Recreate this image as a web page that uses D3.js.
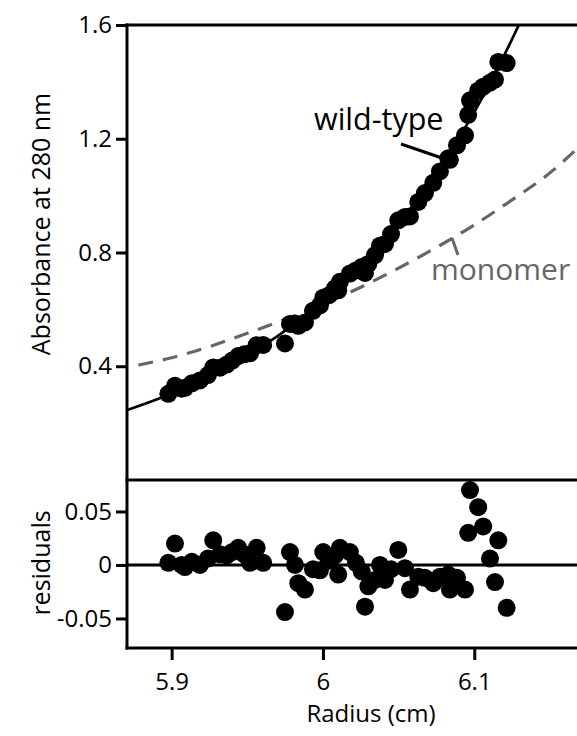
<!DOCTYPE html>
<html>
<head>
<meta charset="utf-8">
<script src="https://cdn.jsdelivr.net/npm/d3@7"></script>
<style>
  html, body { margin: 0; padding: 0; background: #fff; }
  svg { display: block; }
  text { font-family: "Open Sans", "Noto Sans", sans-serif; }
</style>
</head>
<body>
<svg id="chart" width="577" height="736"></svg>
<script>
// ---- data ----
const radius = [5.8978,5.9022,5.9066,5.9088,5.9134,5.9187,5.924,5.9275,5.932,5.9364,5.940,5.944,5.948,5.9518,5.9562,5.9605,5.9749,5.9782,5.9815,5.9837,5.9881,5.9934,5.998,6.0002,6.004,6.0079,6.0101,6.0112,6.0178,6.0218,6.0256,6.0278,6.030,6.0344,6.0377,6.041,6.045,6.0498,6.0542,6.0575,6.063,6.0674,6.0729,6.0773,6.0828,6.0839,6.0886,6.0939,6.096,6.0972,6.1026,6.1059,6.1104,6.1137,6.1159,6.1214];
const absorbance = [0.303,0.331,0.321,0.324,0.340,0.350,0.369,0.396,0.395,0.406,0.420,0.436,0.442,0.446,0.474,0.475,0.480,0.549,0.550,0.542,0.554,0.595,0.614,0.641,0.650,0.674,0.667,0.697,0.726,0.737,0.749,0.728,0.760,0.791,0.824,0.830,0.865,0.913,0.925,0.927,0.978,1.009,1.045,1.085,1.131,1.126,1.177,1.212,1.284,1.335,1.369,1.383,1.397,1.408,1.470,1.466];
const residuals = [0.002,0.020,0.000,-0.002,0.003,0.000,0.006,0.023,0.010,0.009,0.012,0.016,0.010,0.002,0.016,0.002,-0.044,0.012,0.000,-0.017,-0.023,-0.004,-0.005,0.012,0.004,0.009,-0.009,0.016,0.012,0.002,-0.006,-0.039,-0.020,-0.014,0.000,-0.014,-0.004,0.014,-0.003,-0.023,-0.011,-0.012,-0.017,-0.011,-0.009,-0.023,-0.012,-0.023,0.030,0.070,0.054,0.036,0.006,-0.016,0.023,-0.040];

const fitRadius = [5.87,5.89,5.91,5.93,5.95,5.97,5.99,6.01,6.03,6.05,6.07,6.09,6.11,6.13];
const fitAbs    = [0.245,0.283,0.327,0.379,0.438,0.506,0.585,0.676,0.780,0.902,1.041,1.203,1.390,1.606];

const monoRadius = [5.878,5.90,5.925,5.95,5.975,6.00,6.025,6.05,6.075,6.10,6.125,6.15,6.168];
const monoAbs    = [0.404,0.430,0.469,0.516,0.565,0.618,0.678,0.745,0.818,0.897,0.985,1.080,1.165];

const xTicks = [5.9, 6.0, 6.1];
const xTickLabels = ["5.9", "6", "6.1"];
const yTicksTop = [0.4, 0.8, 1.2, 1.6];
const yTickLabelsTop = ["0.4", "0.8", "1.2", "1.6"];
const yTicksRes = [-0.05, 0, 0.05];
const yTickLabelsRes = ["-0.05", "0", "0.05"];

// ---- layout ----
const L = 127, R = 577, T = 25, M = 480, B = 648;
const svg = d3.select("#chart");

const x = d3.scaleLinear().domain([5.8705, 6.1679]).range([L, R]);
const yTop = d3.scaleLinear().domain([0, 1.6]).range([M, T]);
const yRes = d3.scaleLinear().domain([-0.0776, 0.0794]).range([B, M]);

svg.append("defs").append("clipPath").attr("id", "clipTop")
  .append("rect").attr("x", L).attr("y", T).attr("width", R - L).attr("height", M - T);

// lines (under points)
const line = d3.line().curve(d3.curveMonotoneX);
const gTop = svg.append("g").attr("clip-path", "url(#clipTop)");
gTop.append("path")
  .attr("d", line(monoRadius.map((r, i) => [x(r), yTop(monoAbs[i])])))
  .attr("fill", "none").attr("stroke", "#666").attr("stroke-width", 3.2)
  .attr("stroke-dasharray", "15,10");
gTop.append("path")
  .attr("d", line(fitRadius.map((r, i) => [x(r), yTop(fitAbs[i])])))
  .attr("fill", "none").attr("stroke", "#000").attr("stroke-width", 2.7);

// points top
gTop.selectAll("circle").data(radius).join("circle")
  .attr("cx", d => x(d)).attr("cy", (d, i) => yTop(absorbance[i])).attr("r", 9).attr("fill", "#000");

// residual zero line
svg.append("line").attr("x1", L).attr("x2", R).attr("y1", yRes(0)).attr("y2", yRes(0))
  .attr("stroke", "#000").attr("stroke-width", 3);
svg.append("g").selectAll("circle").data(radius).join("circle")
  .attr("cx", d => x(d)).attr("cy", (d, i) => yRes(residuals[i])).attr("r", 9).attr("fill", "#000");

// frame lines
const frame = svg.append("g").attr("stroke", "#000").attr("stroke-width", 3).attr("stroke-linecap", "square");
frame.append("line").attr("x1", L).attr("x2", R + 5).attr("y1", T).attr("y2", T);
frame.append("line").attr("x1", L).attr("x2", R + 5).attr("y1", M).attr("y2", M);
frame.append("line").attr("x1", L).attr("x2", R + 5).attr("y1", B).attr("y2", B);
frame.append("line").attr("x1", L).attr("x2", L).attr("y1", T).attr("y2", B);

// axes
function styleAxis(g) {
  g.select(".domain").remove();
  g.selectAll(".tick line").attr("stroke", "#000").attr("stroke-width", 3);
  g.selectAll(".tick text").attr("fill", "#000").style("font-size", "24px")
    .style("font-family", "'Open Sans', sans-serif");
}
svg.append("g").attr("transform", `translate(${L},0)`)
  .call(d3.axisLeft(yTop).tickValues(yTicksTop).tickSize(11).tickPadding(4)
    .tickFormat((d, i) => yTickLabelsTop[i]))
  .call(styleAxis);
svg.append("g").attr("transform", `translate(${L},0)`)
  .call(d3.axisLeft(yRes).tickValues(yTicksRes).tickSize(11).tickPadding(4)
    .tickFormat((d, i) => yTickLabelsRes[i]))
  .call(styleAxis);
svg.append("g").attr("transform", `translate(0,${B})`)
  .call(d3.axisBottom(x).tickValues(xTicks).tickSize(12).tickPadding(13)
    .tickFormat((d, i) => xTickLabels[i]))
  .call(styleAxis);

// axis titles
svg.append("text").attr("x", 371).attr("y", 722).attr("text-anchor", "middle")
  .style("font-size", "24px").text("Radius (cm)");
svg.append("text").attr("transform", "translate(50,224) rotate(-90)").attr("text-anchor", "middle")
  .style("font-size", "25px").text("Absorbance at 280 nm");
svg.append("text").attr("transform", "translate(50,563) rotate(-90)").attr("text-anchor", "middle")
  .style("font-size", "25px").text("residuals");

// annotations
svg.append("text").attr("x", 314).attr("y", 130).style("font-size", "30.5px").attr("fill", "#000").text("wild-type");
svg.append("line").attr("x1", 401).attr("y1", 144).attr("x2", 442).attr("y2", 158)
  .attr("stroke", "#000").attr("stroke-width", 3);
svg.append("text").attr("x", 431).attr("y", 280).style("font-size", "30px").attr("fill", "#666").text("monomer");
svg.append("line").attr("x1", 452).attr("y1", 238).attr("x2", 458).attr("y2", 255)
  .attr("stroke", "#666").attr("stroke-width", 3);
</script>
</body>
</html>
